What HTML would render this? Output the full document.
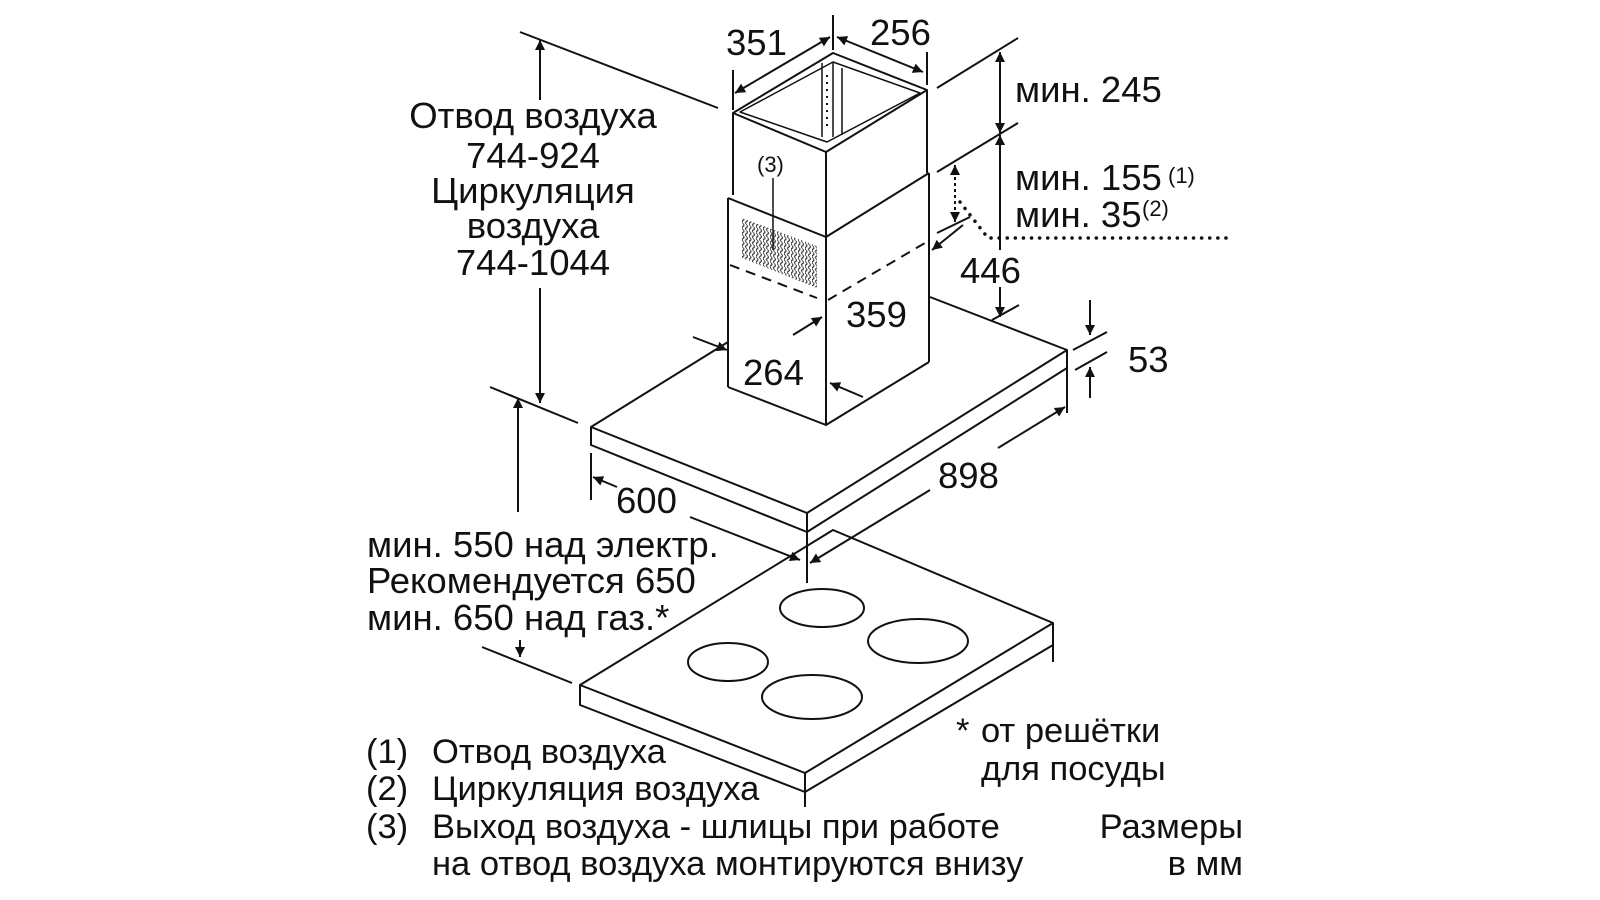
<!DOCTYPE html>
<html><head><meta charset="utf-8"><style>
html,body{margin:0;padding:0;background:#fff;}
svg{display:block;}
text{font-family:"Liberation Sans",Arial,sans-serif;fill:#111;}
</style></head><body>
<svg width="1600" height="900" viewBox="0 0 1600 900" xmlns="http://www.w3.org/2000/svg">
<defs>
<marker id="a" viewBox="0 0 10 10" refX="10" refY="5" markerWidth="14" markerHeight="10" markerUnits="userSpaceOnUse" orient="auto-start-reverse">
<path d="M0,0 L10,5 L0,10 z" fill="#111"/></marker>
<pattern id="g" width="7" height="6" patternUnits="userSpaceOnUse" patternTransform="skewY(18)">
<path d="M1,0 q2,1.5 0,3 q-2,1.5 0,3" stroke="#222" stroke-width="1" fill="none"/>
<path d="M4.5,0 q2,1.5 0,3 q-2,1.5 0,3" stroke="#222" stroke-width="1" fill="none"/>
</pattern>
</defs>
<g stroke="#111" stroke-width="2" fill="none" stroke-linejoin="round">
<path d="M733,113 L833,53 L927,90 L826,152 Z"/>
<path d="M740,112 L833,62 L920,93 L827,142 Z" stroke-width="1.5"/>
<line x1="822" y1="63" x2="822" y2="137" stroke-width="1.5"/>
<line x1="833" y1="63" x2="833" y2="137" stroke-width="1.5"/>
<line x1="842" y1="68" x2="842" y2="135" stroke-width="1.5"/>
<line x1="827" y1="75" x2="827" y2="130" stroke-width="2" stroke-dasharray="2,5"/>
<line x1="733" y1="113" x2="733" y2="195"/>
<line x1="826" y1="152" x2="826" y2="237"/>
<line x1="927" y1="90" x2="927" y2="173"/>
<path d="M728,198 L826,237 L929,173"/>
<line x1="728" y1="198" x2="728" y2="387"/>
<line x1="826" y1="237" x2="826" y2="425"/>
<line x1="929" y1="173" x2="929" y2="362"/>
<path d="M728,387 L826,425 L929,362"/>
<path d="M742,218 L817,246 L817,288 L742,258 Z" fill="url(#g)" stroke="none"/>
<path d="M730,265 L817,298 M828,300 L930,240" stroke-dasharray="10,7"/>
<path d="M591,427 L728,342 M930,297 L1067,350"/>
<path d="M591,427 L807,513 L1067,350 L1067,368 L807,532 L591,445 Z"/>
<line x1="807" y1="513" x2="807" y2="532"/>
<path d="M580,685 L833,530 L1053,623 L1053,645 L805,792 L580,705 Z"/>
<path d="M580,685 L805,773 L1053,623"/>
<line x1="805" y1="773" x2="805" y2="807"/>
<line x1="1053" y1="645" x2="1053" y2="662"/>
<ellipse cx="822" cy="608" rx="42" ry="19"/>
<ellipse cx="918" cy="641" rx="50" ry="22"/>
<ellipse cx="728" cy="662" rx="40" ry="19"/>
<ellipse cx="812" cy="697" rx="50" ry="22"/>
<line x1="520" y1="32" x2="718" y2="108"/>
<line x1="540" y1="100" x2="540" y2="40" marker-end="url(#a)"/>
<line x1="540" y1="288" x2="540" y2="403" marker-end="url(#a)"/>
<line x1="490" y1="387" x2="578" y2="423"/>
<line x1="518" y1="512" x2="518" y2="398" marker-end="url(#a)"/>
<line x1="520" y1="640" x2="520" y2="657" marker-end="url(#a)"/>
<line x1="482" y1="647" x2="572" y2="683"/>
<line x1="833" y1="15" x2="833" y2="50"/>
<line x1="733" y1="70" x2="733" y2="110"/>
<line x1="927" y1="52" x2="927" y2="85"/>
<line x1="735" y1="93" x2="830" y2="37" marker-start="url(#a)" marker-end="url(#a)"/>
<line x1="837" y1="37" x2="923" y2="72" marker-start="url(#a)" marker-end="url(#a)"/>
<line x1="937" y1="88" x2="1018" y2="38"/>
<line x1="937" y1="172" x2="1018" y2="123"/>
<line x1="1000" y1="52" x2="1000" y2="133" marker-start="url(#a)" marker-end="url(#a)"/>
<line x1="1000" y1="250" x2="1000" y2="135" marker-end="url(#a)"/>
<line x1="1000" y1="287" x2="1000" y2="317" marker-end="url(#a)"/>
<line x1="992" y1="320" x2="1019" y2="305"/>
<line x1="955" y1="165" x2="955" y2="222" stroke-dasharray="3,3" marker-start="url(#a)" marker-end="url(#a)"/>
<line x1="937" y1="233" x2="970" y2="217"/>
<line x1="963" y1="225" x2="932" y2="250" marker-end="url(#a)"/>
<path d="M960,202 L988,238 L1227,238" stroke-width="3.5" stroke-dasharray="0.1,8" stroke-linecap="round"/>
<line x1="1073" y1="350" x2="1107" y2="332"/>
<line x1="1075" y1="370" x2="1107" y2="352"/>
<line x1="1090" y1="300" x2="1090" y2="335" marker-end="url(#a)"/>
<line x1="1090" y1="398" x2="1090" y2="367" marker-end="url(#a)"/>
<line x1="1067" y1="368" x2="1067" y2="413"/>
<line x1="793" y1="335" x2="822" y2="317" marker-end="url(#a)"/>
<line x1="863" y1="397" x2="830" y2="383" marker-end="url(#a)"/>
<line x1="693" y1="337" x2="727" y2="350" marker-end="url(#a)"/>
<line x1="591" y1="453" x2="591" y2="500"/>
<line x1="617" y1="487" x2="593" y2="477" marker-end="url(#a)"/>
<line x1="690" y1="517" x2="800" y2="560" marker-end="url(#a)"/>
<line x1="807" y1="532" x2="807" y2="583"/>
<line x1="930" y1="490" x2="810" y2="563" marker-end="url(#a)"/>
<line x1="998" y1="448" x2="1065" y2="407" marker-end="url(#a)"/>
<line x1="773" y1="178" x2="773" y2="250" stroke-width="1.5"/>
</g>
<g font-size="36.5">
<text x="533" y="128" text-anchor="middle">Отвод воздуха</text>
<text x="533" y="168" text-anchor="middle">744-924</text>
<text x="533" y="203" text-anchor="middle">Циркуляция</text>
<text x="533" y="238" text-anchor="middle">воздуха</text>
<text x="533" y="275" text-anchor="middle">744-1044</text>
<text x="726" y="55">351</text>
<text x="870" y="45">256</text>
<text x="1015" y="102">мин. 245</text>
<text x="1015" y="190">мин. 155</text>
<text x="1015" y="227">мин. 35</text>
<text x="960" y="283">446</text>
<text x="846" y="327">359</text>
<text x="743" y="385">264</text>
<text x="1128" y="372">53</text>
<text x="938" y="488">898</text>
<text x="616" y="513">600</text>
<text x="367" y="557">мин. 550 над электр.</text>
<text x="367" y="593">Рекомендуется 650</text>
<text x="367" y="630">мин. 650 над газ.*</text>
</g>
<g font-size="22">
<text x="1168" y="183">(1)</text>
<text x="1142" y="216">(2)</text>
<text x="757" y="172">(3)</text>
</g>
<g font-size="34.5">
<text x="366" y="763">(1)</text><text x="432" y="763">Отвод воздуха</text>
<text x="366" y="800">(2)</text><text x="432" y="800">Циркуляция воздуха</text>
<text x="366" y="838">(3)</text><text x="432" y="838">Выход воздуха - шлицы при работе</text>
<text x="432" y="875">на отвод воздуха монтируются внизу</text>
<text x="956" y="742">*</text><text x="981" y="742">от решётки</text>
<text x="981" y="780">для посуды</text>
<text x="1243" y="838" text-anchor="end">Размеры</text>
<text x="1243" y="875" text-anchor="end">в мм</text>
</g>
</svg>
</body></html>
